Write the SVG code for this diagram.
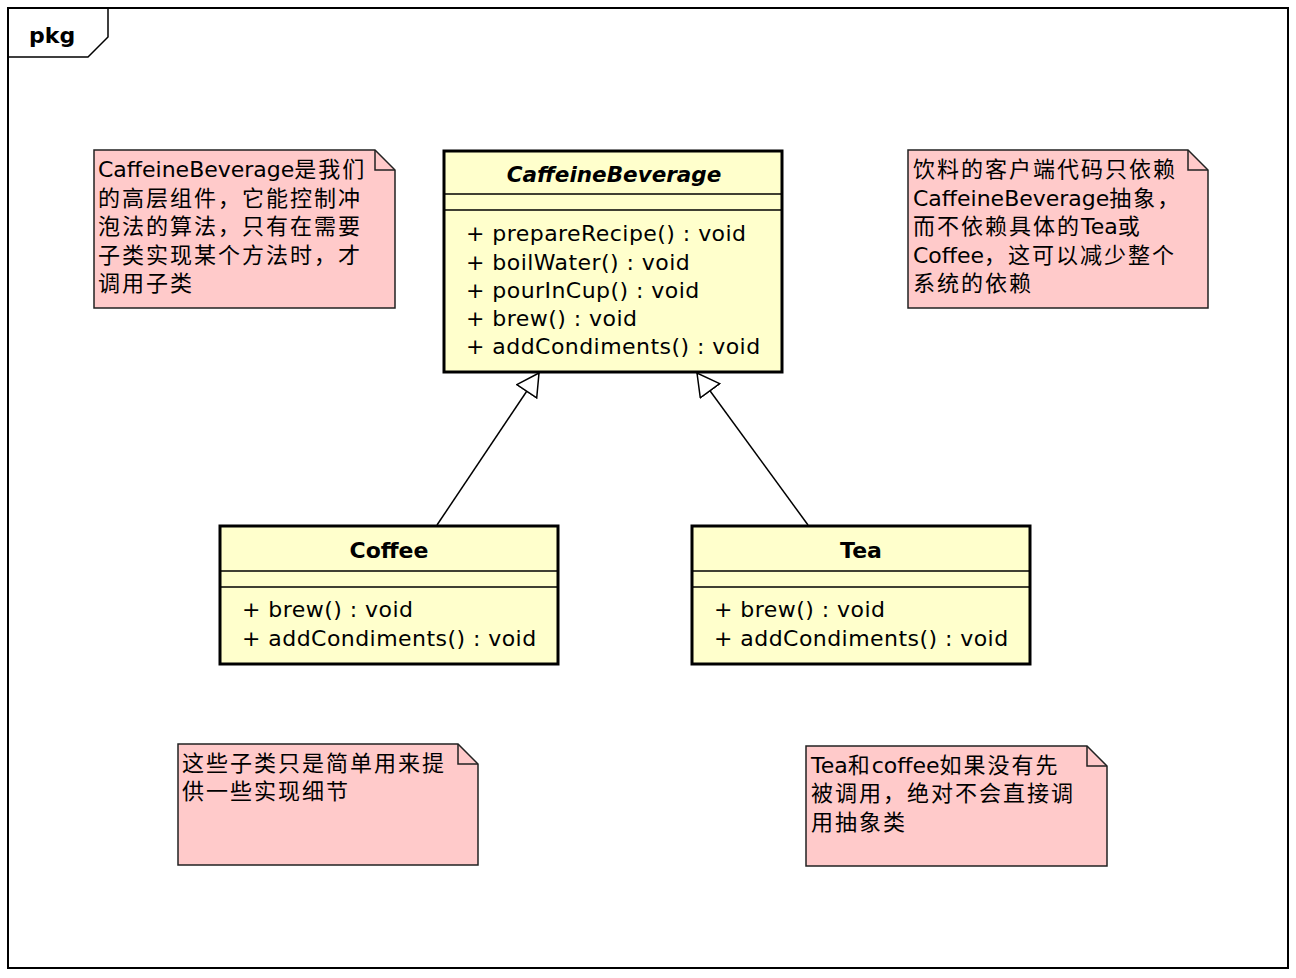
<svg xmlns="http://www.w3.org/2000/svg" width="1296" height="978" viewBox="0 0 1296 978">
<style>
text{font-family:"DejaVu Sans","Noto Sans CJK SC",sans-serif;fill:#000}
.t{font-size:22px}
.m{letter-spacing:0.45px}
.c{letter-spacing:2px}
.name{font-size:22px;font-weight:bold;text-anchor:middle}
.it{font-style:italic;font-size:21.5px}
.cls{fill:#FFFFCC;stroke:#000;stroke-width:3}
.sep{stroke:#000;stroke-width:1.5}
.note{fill:#FFCACA;stroke:#222;stroke-width:1.5}
.fold{fill:none;stroke:#222;stroke-width:1.5}
.edge{stroke:#000;stroke-width:1.5;fill:none}
</style>
<defs>
<marker id="gen" markerUnits="userSpaceOnUse" viewBox="-1 -1 25 26" markerWidth="25" markerHeight="26" refX="22" refY="12" orient="auto">
<path d="M22,12 L0,0 L0,24 Z" fill="#fff" stroke="#000" stroke-width="1.5"/>
</marker>
</defs>
<rect width="1296" height="978" fill="#fff"/>
<g id="frame">
<rect x="8" y="8" width="1280" height="960" fill="none" stroke="#000" stroke-width="2"/>
<path d="M108,8 V37 L88,57 H8" fill="none" stroke="#000" stroke-width="1.5"/>
<text x="29" y="43" style="font-size:22px;font-weight:bold">pkg</text>
</g>
<g id="connectors">
<line class="edge" x1="437" y1="525" x2="539" y2="373" marker-end="url(#gen)"/>
<line class="edge" x1="808" y1="525" x2="697" y2="373" marker-end="url(#gen)"/>
</g>
<g id="CaffeineBeverage">
<rect class="cls" x="444" y="151" width="338" height="221"/>
<line class="sep" x1="444" y1="194" x2="782" y2="194"/>
<line class="sep" x1="444" y1="210" x2="782" y2="210"/>
<text class="name it" x="614" y="182">CaffeineBeverage</text>
<text class="t m" x="466" y="241">+ prepareRecipe() : void</text>
<text class="t m" x="466" y="269.5">+ boilWater() : void</text>
<text class="t m" x="466" y="298">+ pourInCup() : void</text>
<text class="t m" x="466" y="326">+ brew() : void</text>
<text class="t m" x="466" y="354">+ addCondiments() : void</text>
</g>
<g id="Coffee">
<rect class="cls" x="220" y="526" width="338" height="138"/>
<line class="sep" x1="220" y1="571" x2="558" y2="571"/>
<line class="sep" x1="220" y1="587" x2="558" y2="587"/>
<text class="name" x="389" y="558">Coffee</text>
<text class="t m" x="242" y="617">+ brew() : void</text>
<text class="t m" x="242" y="646">+ addCondiments() : void</text>
</g>
<g id="Tea">
<rect class="cls" x="692" y="526" width="338" height="138"/>
<line class="sep" x1="692" y1="571" x2="1030" y2="571"/>
<line class="sep" x1="692" y1="587" x2="1030" y2="587"/>
<text class="name" x="861" y="558">Tea</text>
<text class="t m" x="714" y="617">+ brew() : void</text>
<text class="t m" x="714" y="646">+ addCondiments() : void</text>
</g>
<g id="note1">
<path class="note" d="M94,150 H375 L395,170 V308 H94 Z"/>
<path class="fold" d="M375,150 V170 H395"/>
<text class="t" x="98" y="177">CaffeineBeverage<tspan class="c">是我们</tspan></text>
<text class="t c" x="98" y="205.5">的高层组件，它能控制冲</text>
<text class="t c" x="98" y="234">泡法的算法，只有在需要</text>
<text class="t c" x="98" y="262.5">子类实现某个方法时，才</text>
<text class="t c" x="98" y="291">调用子类</text>
</g>
<g id="note2">
<path class="note" d="M908,150 H1188 L1208,170 V308 H908 Z"/>
<path class="fold" d="M1188,150 V170 H1208"/>
<text class="t c" x="913" y="177">饮料的客户端代码只依赖</text>
<text class="t" x="913" y="205.5">CaffeineBeverage<tspan class="c">抽象，</tspan></text>
<text class="t" x="913" y="234"><tspan class="c">而不依赖具体的</tspan>Tea<tspan class="c">或</tspan></text>
<text class="t" x="913" y="262.5">Coffee<tspan class="c">，这可以减少整个</tspan></text>
<text class="t c" x="913" y="291">系统的依赖</text>
</g>
<g id="note3">
<path class="note" d="M178,744 H458 L478,764 V865 H178 Z"/>
<path class="fold" d="M458,744 V764 H478"/>
<text class="t c" x="182" y="770.5">这些子类只是简单用来提</text>
<text class="t c" x="182" y="799">供一些实现细节</text>
</g>
<g id="note4">
<path class="note" d="M806,746 H1087 L1107,766 V866 H806 Z"/>
<path class="fold" d="M1087,746 V766 H1107"/>
<text class="t" x="811" y="772.5">Tea<tspan class="c">和</tspan>coffee<tspan class="c">如果没有先</tspan></text>
<text class="t c" x="811" y="801">被调用，绝对不会直接调</text>
<text class="t c" x="811" y="829.5">用抽象类</text>
</g>
</svg>
